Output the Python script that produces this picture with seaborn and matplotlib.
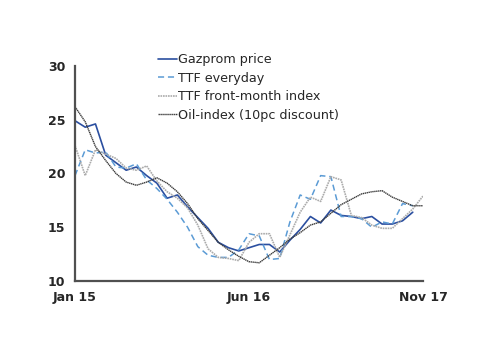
"""
Prix du gaz : Gazprom vs TTF vs indexation pétrole (Jan 15 - Nov 17)
"""

import numpy as np
import pandas as pd
import matplotlib
matplotlib.use('Agg')
import matplotlib.pyplot as plt
import seaborn as sns

# =============================================================================
# DONNÉES (lecture du graphique, mensuel)
# =============================================================================

months = pd.date_range('2015-01-01', '2017-11-01', freq='MS')
tick_pos = [0, 17, 34]
tick_labels = ['Jan 15', 'Jun 16', 'Nov 17']

gazprom = [24.9, 24.3, 24.6, 21.7, 21.0, 20.3, 20.6, 19.8, 19.1, 17.7,
           18.0, 16.9, 15.9, 14.9, 13.6, 13.1, 12.8, 13.1, 13.4, 13.4,
           12.7, 13.8, 14.8, 16.0, 15.4, 16.6, 16.1, 16.0, 15.8, 16.0,
           15.3, 15.3, 15.6, 16.4, np.nan]
ttf_everyday = [19.8, 22.2, 21.9, 22.0, 20.6, 20.5, 20.9, 19.4, 18.6, 17.6,
                16.4, 15.0, 13.2, 12.4, 12.2, 12.2, 12.9, 14.4, 14.2, 12.0,
                12.1, 15.5, 18.0, 17.6, 19.8, 19.7, 16.0, 16.0, 15.8, 15.0,
                15.5, 15.3, 17.2, 17.0, np.nan]
ttf_front_month = [22.6, 19.8, 22.2, 21.8, 21.4, 20.5, 20.3, 20.7, 19.3, 18.3,
                   17.7, 16.8, 15.2, 13.0, 12.2, 12.1, 11.9, 13.6, 14.4, 14.4,
                   12.2, 14.3, 16.4, 17.8, 17.4, 19.7, 19.4, 16.1, 15.9, 15.2,
                   14.9, 14.9, 15.8, 16.7, 17.9]
oil_index = [26.2, 24.8, 22.5, 21.2, 20.0, 19.2, 18.9, 19.2, 19.6, 19.1,
             18.3, 17.2, 15.8, 14.7, 13.6, 12.9, 12.3, 11.8, 11.7, 12.4,
             13.1, 13.9, 14.5, 15.2, 15.5, 16.3, 17.1, 17.6, 18.1, 18.3,
             18.4, 17.8, 17.4, 17.0, 17.0]

series = {
    'Gazprom price': (gazprom, '#2b4fa0', '-', 1.2),
    'TTF everyday': (ttf_everyday, '#5b9bd5', (0, (4, 2.5)), 1.1),
    'TTF front-month index': (ttf_front_month, '#ababab', (0, (1, 0.5)), 1.2),
    'Oil-index (10pc discount)': (oil_index, '#3a3a3a', (0, (1, 0.4)), 1.0),
}

df = pd.DataFrame({'month': months, 'x': np.arange(len(months))})
for name, (vals, *_rest) in series.items():
    df[name] = vals

# =============================================================================
# GRAPHIQUE
# =============================================================================

sns.set_style('white')
plt.rcParams['font.family'] = ['DejaVu Sans']

fig = plt.figure(figsize=(5.0, 3.54), dpi=100)
ax = fig.add_axes([0.15, 0.206, 0.696, 0.608])

for name, (vals, color, ls, lw) in series.items():
    sns.lineplot(data=df, x='x', y=name, ax=ax, color=color,
                 linestyle=ls, linewidth=lw, label=name)

ax.set_xlim(0, 34)
ax.set_ylim(10, 30)
ax.set_yticks([10, 15, 20, 25, 30])
ax.set_xticks(tick_pos)
ax.set_xticklabels(tick_labels)
ax.set_xlabel('')
ax.set_ylabel('')

for side in ['top', 'right']:
    ax.spines[side].set_visible(False)
for side in ['left', 'bottom']:
    ax.spines[side].set_color('#505050')
    ax.spines[side].set_linewidth(1.6)

ax.tick_params(axis='both', direction='out', length=4, width=1.2,
               color='#505050', labelsize=9, pad=3)
for lbl in ax.get_xticklabels() + ax.get_yticklabels():
    lbl.set_fontweight('bold')

ax.legend_.remove()
handles, labels = ax.get_legend_handles_labels()
fig.legend(handles, labels, loc='upper left', bbox_to_anchor=(0.316, 0.849),
           frameon=False, fontsize=9.2, handlelength=1.5, handletextpad=0.1,
           labelspacing=0.42, borderpad=0, borderaxespad=0)

fig.savefig('out.png', dpi=100)
plt.close(fig)
